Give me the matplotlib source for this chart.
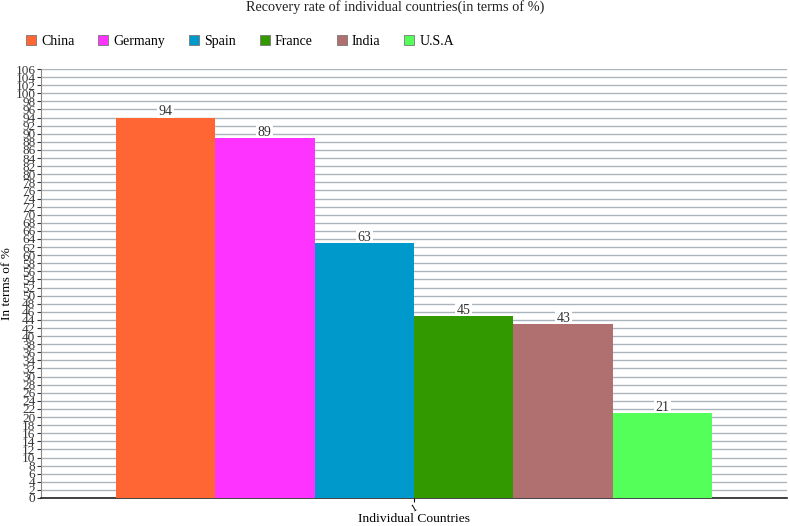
import matplotlib
matplotlib.use("Agg")
import matplotlib.pyplot as plt
import numpy as np
from matplotlib.patches import Patch

countries = ["China", "Germany", "Spain", "France", "India", "U.S.A"]
values = [94, 89, 63, 45, 43, 21]
colors = ["#FF6633", "#FF33FF", "#0099CC", "#339900", "#B07070", "#55FF5A"]
category = ["1"]

plt.rcParams['font.family'] = ['Liberation Serif', 'DejaVu Serif']

fig = plt.figure(figsize=(7.9, 5.26), dpi=100)
ax = fig.add_axes([41/790, 1-498/526, 746/790, (498-69)/526])

n = len(values)
group_w = 0.8
bw = group_w / n
x0 = 0
for i, (c, v, col) in enumerate(zip(countries, values, colors)):
    xc = x0 - group_w/2 + bw*(i+0.5)
    ax.bar(xc, v, width=bw, color=col, zorder=3, label=c)
    ax.text(xc, v + 0.55, str(v), ha='center', va='baseline', fontsize=10, color='#333333',
            zorder=2.5, bbox=dict(facecolor='white', edgecolor='none', pad=1.0))

ax.set_xlim(-0.5, 0.5)
ax.set_ylim(0, 106)
ax.set_yticks(np.arange(0, 107, 2))
ax.tick_params(axis='y', labelsize=9.5, length=3, pad=1, colors='#333333', width=0.8)
ax.set_xticks([0])
ax.set_xticklabels(category, fontsize=7, rotation=30)
ax.tick_params(axis='x', length=3, pad=1)
ax.grid(axis='y', color='#A9B4BC', linewidth=1.0, zorder=0)
ax.set_axisbelow(True)
for s in ['top', 'right']:
    ax.spines[s].set_visible(False)
ax.spines['left'].set_color('#888888')
ax.spines['left'].set_linewidth(0.8)
ax.spines['bottom'].set_color('#222222')
ax.spines['bottom'].set_linewidth(1.2)

ax.set_ylabel("In terms of %", fontsize=9.5)
ax.yaxis.set_label_coords(-34/746, 0.5)
ax.yaxis.label.set_va('center')
ax.set_xlabel("Individual Countries", fontsize=9.7)
ax.xaxis.set_label_coords(0.5, -(519-498)/429)
ax.xaxis.label.set_va('center')

fig.text(0.5, 1-7/526, "Recovery rate of individual countries(in terms of %)", ha='center', va='center', fontsize=10.3, color='#222222')

handles = [Patch(facecolor=col, edgecolor='#777777', linewidth=0.6) for col in colors]
fig.legend(handles, countries, loc='center left', bbox_to_anchor=(0.033, 1-41/526), ncol=6,
           frameon=False, fontsize=10, handlelength=0.72, handleheight=0.72, columnspacing=1.7,
           handletextpad=0.38, borderaxespad=0, borderpad=0)

fig.savefig("out.png", dpi=100)
